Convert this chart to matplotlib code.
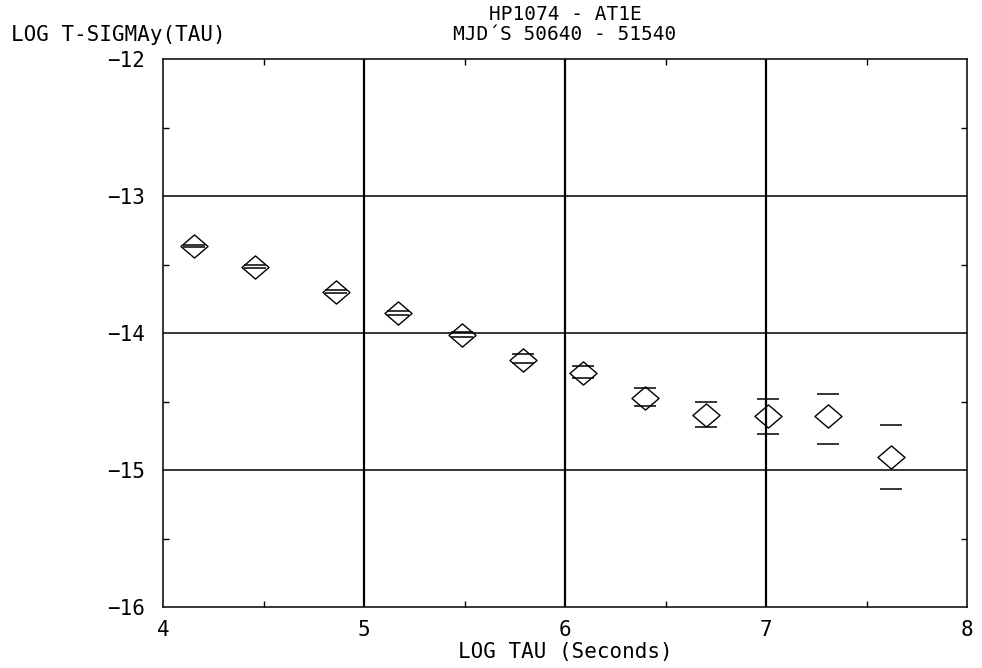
import numpy as np
import matplotlib.pyplot as plt
from matplotlib.path import Path

# données
log_tau = [4.154, 4.46, 4.86, 5.17, 5.49, 5.79, 6.09, 6.40, 6.70, 7.01, 7.31, 7.62]
log_sigma = [-13.365, -13.518, -13.70, -13.854, -14.015, -14.197,
             -14.292, -14.474, -14.60, -14.606, -14.606, -14.905]
err_lo = [0.004, 0.007, 0.010, 0.015, 0.015, 0.022, 0.036, 0.058, 0.088, 0.131, 0.204, 0.234]
err_hi = [0.004, 0.015, 0.014, 0.015, 0.022, 0.044, 0.051, 0.073, 0.095, 0.124, 0.161, 0.234]

x_ticks = [4, 5, 6, 7, 8]
y_ticks = [-16, -15, -14, -13, -12]

plt.rcParams['font.family'] = ['DejaVu Sans Mono']

# losange un peu plus large que haut
losange = Path([(-1.17, 0), (0, 1), (1.17, 0), (0, -1), (-1.17, 0)],
               [Path.MOVETO, Path.LINETO, Path.LINETO, Path.LINETO, Path.CLOSEPOLY])

fig = plt.figure(figsize=(9.82, 6.68), dpi=100)
ax = fig.add_axes([163 / 982, 1 - 607 / 668, (967 - 163) / 982, (607 - 59) / 668])

ax.errorbar(log_tau, log_sigma, yerr=[err_lo, err_hi], fmt='none', ecolor='black',
            elinewidth=0, capsize=8, capthick=1.1, zorder=3)
ax.plot(log_tau, log_sigma, linestyle='none', marker=losange, markersize=19.5,
        markerfacecolor='none', markeredgecolor='black', markeredgewidth=1.0, zorder=4)

ax.set_xlim(4, 8)
ax.set_ylim(-16, -12)
ax.set_xticks(x_ticks)
ax.set_yticks(y_ticks)
ax.set_xticks(np.arange(4.5, 8, 1), minor=True)
ax.set_yticks(np.arange(-15.5, -12, 1), minor=True)
ax.tick_params(which='major', length=0, labelsize=15)
ax.tick_params(axis='x', which='major', pad=9)
ax.tick_params(axis='y', which='major', pad=13)
ax.tick_params(which='minor', direction='in', length=4, width=1, top=True, right=True)

for v in x_ticks[1:-1]:
    ax.axvline(v, color='black', linewidth=1.6, zorder=1)
for v in y_ticks[1:-1]:
    ax.axhline(v, color='black', linewidth=1.1, zorder=1)
for s in ax.spines.values():
    s.set_linewidth(1.1)

ax.set_xlabel('LOG TAU (Seconds)', fontsize=15, labelpad=2)
fig.text(11 / 982, 1 - 35 / 668, 'LOG T-SIGMAy(TAU)', fontsize=15, ha='left', va='center')
fig.text(565 / 982, 1 - 15 / 668, 'HP1074 - AT1E', fontsize=14, ha='center', va='center')
fig.text(565 / 982, 1 - 35 / 668, 'MJD´S 50640 - 51540', fontsize=14, ha='center', va='center')

fig.savefig('out.png', dpi=100)
